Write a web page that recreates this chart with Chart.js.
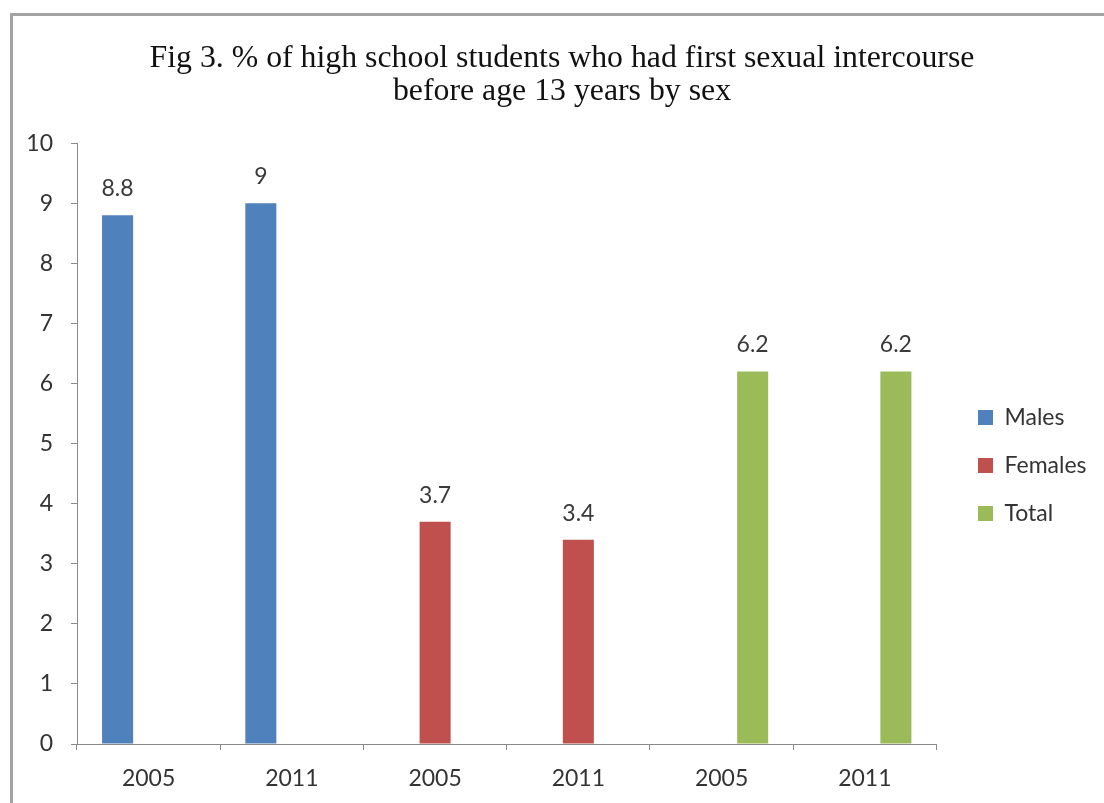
<!DOCTYPE html>
<html>
<head>
<meta charset="utf-8">
<script src="https://cdn.jsdelivr.net/npm/chart.js@4/dist/chart.umd.min.js"></script>
<style>
  html, body { margin: 0; padding: 0; background: #ffffff; }
  #wrap { position: relative; width: 1104px; height: 803px; overflow: hidden; }
  #frame {
    position: absolute; left: 10px; top: 13px; right: -10px; bottom: -10px;
    border-left: 3px solid #a3a3a3; border-top: 3px solid #a3a3a3;
  }
  canvas { position: absolute; left: 0; top: 0; }
</style>
</head>
<body>
<div id="wrap">
  <div id="frame"></div>
  <canvas id="chart" width="1104" height="803"></canvas>
</div>
<script>
// Survey years, grouped by sex (Males, Females, Total)
const categories = ['2005', '2011', '2005', '2011', '2005', '2011'];
const malesValues   = [8.8, 9.0, null, null, null, null];
const femalesValues = [null, null, 3.7, 3.4, null, null];
const totalValues   = [null, null, null, null, 6.2, 6.2];
const yTickValues   = [0, 1, 2, 3, 4, 5, 6, 7, 8, 9, 10];
const titleLines = [
  'Fig 3. % of high school students who had first sexual intercourse',
  'before age 13 years by sex'
];

const labelFont = "Lato, 'Open Sans', sans-serif";

// Writes each bar's value just above it
const valueLabels = {
  id: 'valueLabels',
  afterDatasetsDraw(chart) {
    const ctx = chart.ctx;
    ctx.save();
    ctx.font = '23px ' + labelFont;
    ctx.fillStyle = '#3a3a3a';
    ctx.textAlign = 'center';
    ctx.textBaseline = 'alphabetic';
    chart.data.datasets.forEach((ds, i) => {
      const meta = chart.getDatasetMeta(i);
      meta.data.forEach((bar, j) => {
        const v = ds.data[j];
        if (v === null || v === undefined) return;
        ctx.fillText(String(v), bar.x, bar.y - 19);
      });
    });
    ctx.restore();
  }
};

// Nudges the legend block into its column beside the plot and
// centres the title over the whole frame
const blockShift = {
  id: 'blockShift',
  afterLayout(chart) {
    const lg = chart.legend;
    if (lg) {
      const dx = 978 - (lg.left + lg.options.labels.padding);
      lg.left += dx; lg.right += dx;
      lg.top += 64; lg.bottom += 64;
    }
    const tb = chart.titleBlock;
    if (tb) {
      const tx = 562 - (tb.left + tb.right) / 2;
      tb.left += tx; tb.right += tx;
    }
  }
};

new Chart(document.getElementById('chart'), {
  type: 'bar',
  data: {
    labels: categories,
    datasets: [
      { label: 'Males',   data: malesValues,   backgroundColor: '#4F81BD' },
      { label: 'Females', data: femalesValues, backgroundColor: '#C0504D' },
      { label: 'Total',   data: totalValues,   backgroundColor: '#9BBB59' }
    ]
  },
  options: {
    responsive: false,
    animation: false,
    devicePixelRatio: 1,
    layout: { padding: { left: 0, right: 24, top: 0, bottom: 0 } },
    datasets: { bar: { categoryPercentage: 0.65, barPercentage: 1.0 } },
    plugins: {
      title: {
        display: true,
        text: titleLines,
        color: '#111111',
        font: { family: "'Liberation Serif', 'DejaVu Serif', serif", size: 31.8, weight: 'normal', lineHeight: 1.04 },
        padding: { top: 42, bottom: 35 }
      },
      legend: {
        position: 'right',
        align: 'center',
        labels: {
          boxWidth: 15,
          boxHeight: 15,
          padding: 25,
          color: '#333333',
          font: { family: labelFont, size: 23 }
        }
      },
      tooltip: { enabled: false }
    },
    scales: {
      x: {
        afterFit(scale) { scale.height = 59; },
        grid: { display: true, offset: true, drawOnChartArea: false, drawTicks: true, tickLength: 6, color: '#8a8a8a' },
        border: { display: true, color: '#8a8a8a', width: 1 },
        ticks: { color: '#333333', font: { family: labelFont, size: 23 }, padding: 15, maxRotation: 0 }
      },
      y: {
        min: 0,
        max: 10,
        afterFit(scale) { scale.width = 77; },
        afterBuildTicks(scale) { scale.ticks = yTickValues.map(v => ({ value: v })); },
        grid: { display: true, drawOnChartArea: false, drawTicks: true, tickLength: 6, color: '#8a8a8a' },
        border: { display: true, color: '#8a8a8a', width: 1 },
        ticks: { color: '#333333', font: { family: labelFont, size: 23 }, padding: 18 }
      }
    }
  },
  plugins: [valueLabels, blockShift]
});
</script>
</body>
</html>
